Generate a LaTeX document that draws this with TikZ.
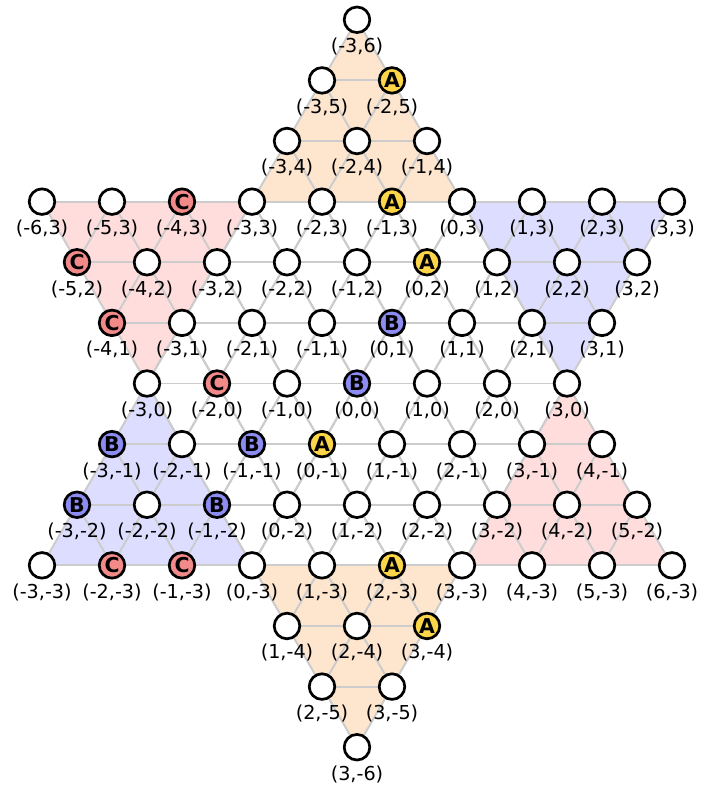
\documentclass[tikz,border=0pt]{standalone}
\usepackage{fontspec}
\setmainfont{DejaVu Sans}
\usetikzlibrary{positioning}
\definecolor{peach}{RGB}{253,229,206}
\definecolor{rosy}{RGB}{255,221,221}
\definecolor{lilac}{RGB}{221,221,255}
\definecolor{pieceA}{RGB}{252,214,72}
\definecolor{pieceB}{RGB}{140,140,242}
\definecolor{pieceC}{RGB}{242,138,138}
\definecolor{gridgray}{RGB}{204,204,204}

\begin{document}
\begin{tikzpicture}[
  gridline/.style={gridgray, line width=0.8pt},
  spot/.style={draw, circle, fill=white, line width=1.1pt, minimum size=10.4pt, inner sep=0pt},
  piece/.style={spot, fill=piece#1, font=\fontsize{8.3}{9}\selectfont\bfseries},
  coordlabel/.style={inner sep=0pt, font=\fontsize{7.8}{9}\selectfont}]
  \useasboundingbox (-5.1,-5.75) rectangle (4.9286,5.4786);
  \def\rows{6/-3/-3, 5/-3/-2, 4/-3/-1, 3/-6/3, 2/-5/3, 1/-4/3, 0/-3/3,
    -1/-3/4, -2/-3/5, -3/-3/6, -4/1/3, -5/2/3, -6/3/3}

  % holes of the star
  \foreach \b/\amin/\amax in \rows
    \foreach \a in {\amin,...,\amax}
      \coordinate (n\a_\b) at ({\a+0.5*\b},{0.866*\b});

  % Home triangles
  \fill[peach] (n-3_6) -- (n-3_3) -- (n0_3) -- cycle;
  \fill[peach] (n3_-6) -- (n3_-3) -- (n0_-3) -- cycle;
  \fill[rosy] (n-6_3) -- (n-3_3) -- (n-3_0) -- cycle;
  \fill[rosy] (n6_-3) -- (n3_-3) -- (n3_0) -- cycle;
  \fill[lilac] (n3_3) -- (n0_3) -- (n3_0) -- cycle;
  \fill[lilac] (n-3_-3) -- (n0_-3) -- (n-3_0) -- cycle;

  % Grid lines of the two big triangles
  \foreach \k in {-3,...,5} {
    \pgfmathtruncatemacro\e{3-\k}
    \draw[gridline] (n-3_\k) -- (n\e_\k);
    \draw[gridline] (n\k_-3) -- (n\k_\e);
  }
  \foreach \s in {-5,...,3} {
    \pgfmathtruncatemacro\c{\s+3}
    \draw[gridline] (n-3_\c) -- (n\c_-3);
  }
  \foreach \k in {-5,...,3} {
    \pgfmathtruncatemacro\e{-3-\k}
    \draw[gridline] (n\e_\k) -- (n3_\k);
    \draw[gridline] (n\k_\e) -- (n\k_3);
  }
  \foreach \s in {-3,...,5} {
    \pgfmathtruncatemacro\c{\s-3}
    \draw[gridline] (n\c_3) -- (n3_\c);
  }

  % Pieces
  \foreach \a/\b/\p in {-2/5/A, -1/3/A, 0/2/A, 0/-1/A, 2/-3/A, 3/-4/A,
      0/1/B, 0/0/B, -1/-1/B, -3/-1/B, -3/-2/B, -1/-2/B,
      -4/3/C, -5/2/C, -4/1/C, -2/0/C, -2/-3/C, -1/-3/C}
    {\expandafter\xdef\csname pc\a_\b\endcsname{\p}}

  \foreach \b/\amin/\amax in \rows
    \foreach \a in {\amin,...,\amax} {
      \ifcsname pc\a_\b\endcsname
        \edef\who{\csname pc\a_\b\endcsname}
        \node[piece=\who] (s\a_\b) at (n\a_\b) {\who};
      \else
        \node[spot] (s\a_\b) at (n\a_\b) {};
      \fi
      \node[coordlabel, below=1.5pt of s\a_\b] (l\a_\b) {(\a,\b)};
    }
\end{tikzpicture}
\end{document}
